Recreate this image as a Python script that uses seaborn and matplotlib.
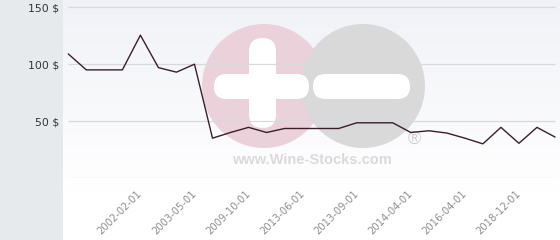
import numpy as np
import pandas as pd
import matplotlib
matplotlib.use("Agg")
import matplotlib.pyplot as plt
from matplotlib.patches import Circle, FancyBboxPatch
import seaborn as sns

# ---- data ----
dates = ["2001-01-01", "2001-04-01", "2001-07-01", "2001-10-01", "2002-02-01",
         "2002-06-01", "2002-10-01", "2003-05-01", "2005-01-01", "2007-06-01",
         "2009-10-01", "2011-01-01", "2012-06-01", "2013-06-01", "2013-07-01",
         "2013-08-01", "2013-09-01", "2013-11-01", "2014-01-01", "2014-04-01",
         "2014-11-01", "2015-06-01", "2016-04-01", "2017-03-01", "2018-01-01",
         "2018-12-01", "2019-09-01", "2020-06-01"]
prices = [109, 95, 95, 95, 125.5, 97, 93, 100, 35, 40,
          44.5, 40, 43.5, 43.5, 43.5, 43.5, 48.5, 48.5, 48.5, 40,
          41.5, 39.5, 35, 30, 44.5, 30.5, 44.5, 36]
ytick_values = [50, 100, 150]
ytick_labels = ["50 $", "100 $", "150 $"]
label_start, label_step = 4, 3

df = pd.DataFrame({"pos": np.arange(len(dates)), "date": dates, "price": prices})

sns.set_theme(style="white")
plt.rcParams["font.family"] = ["DejaVu Sans"]

W, H = 560, 240
fig = plt.figure(figsize=(W / 100, H / 100), dpi=100)
fig.patch.set_facecolor("#e7eaed")

# background panel with vertical gradient
left_px = 63
bg = fig.add_axes([left_px / W, 0, (W - left_px) / W, 1])
bg.set_axis_off()
grad = np.linspace(0, 1, 240)[:, None]
top = np.array([0.945, 0.949, 0.969])
bot = np.array([1.0, 1.0, 1.0])
t = np.clip(grad / 0.8, 0, 1)
img = top[None, None, :] * (1 - t[..., None]) + bot[None, None, :] * t[..., None]
img = np.repeat(img, 2, axis=1)
bg.imshow(img, aspect="auto", extent=[0, 1, 0, 1], origin="upper")
bg.set_xlim(0, 1)
bg.set_ylim(0, 1)

# watermark layer (pixel coordinates)
wm = fig.add_axes([0, 0, 1, 1])
wm.set_axis_off()
wm.set_xlim(0, W)
wm.set_ylim(H, 0)
wm.patch.set_alpha(0)
wm.add_patch(Circle((264, 86), 62, facecolor="#ebd1d9", edgecolor="none"))
wm.add_patch(Circle((363, 86), 62, facecolor="#d9d9da", edgecolor="none"))
wm.add_patch(FancyBboxPatch((249, 38), 27, 90, boxstyle="round,pad=0,rounding_size=13.5",
                            facecolor="white", edgecolor="none"))
wm.add_patch(FancyBboxPatch((214, 74), 95, 25, boxstyle="round,pad=0,rounding_size=12.5",
                            facecolor="white", edgecolor="none"))
wm.add_patch(FancyBboxPatch((313, 74), 97, 25, boxstyle="round,pad=0,rounding_size=12.5",
                            facecolor="white", edgecolor="none"))
wm.text(312, 160.5, "www.Wine-Stocks.com", ha="center", va="center",
        fontsize=10.5, fontweight="bold", color="#dadadc", family="Liberation Sans")
wm.text(414, 139, "®", ha="center", va="center", fontsize=13,
        color="#d0d0d2", family="Liberation Sans")

# main axes
px_per = (555 - 68.3) / (len(dates) - 1)
xmin = -(68.3 - left_px) / px_per
xmax = (len(dates) - 1) + (W - 555) / px_per
ax_bottom = (H - 178) / H
ax = fig.add_axes([left_px / W, ax_bottom, (W - left_px) / W, 1 - ax_bottom])
ax.patch.set_alpha(0)
ymax = 150 + 7.3 / 57 * 50
ax.set_xlim(xmin, xmax)
ax.set_ylim(0, ymax)

ax.hlines([0] + ytick_values, df["pos"].min(), df["pos"].max(),
          color="#d8d9dc", linewidth=0.9, zorder=1)

sns.lineplot(data=df, x="pos", y="price", ax=ax, color="#3a1e2c",
             linewidth=1.0, zorder=3, legend=False)

for s in ax.spines.values():
    s.set_visible(False)
ax.set_xlabel("")
ax.set_ylabel("")
ax.set_yticks(ytick_values)
ax.set_yticklabels(ytick_labels, fontsize=7.8, color="#333333")
ax.tick_params(axis="y", length=0, pad=2.9)

lab_pos = df["pos"].iloc[label_start::label_step].tolist()
lab_txt = df["date"].iloc[label_start::label_step].tolist()
ax.set_xticks(lab_pos)
ax.set_xticklabels(lab_txt, rotation=45, ha="right", va="center",
                   rotation_mode="anchor", fontsize=7.2, color="#8e8e8e")
ax.tick_params(axis="x", length=0, pad=10)

fig.savefig("out.png", dpi=100)
